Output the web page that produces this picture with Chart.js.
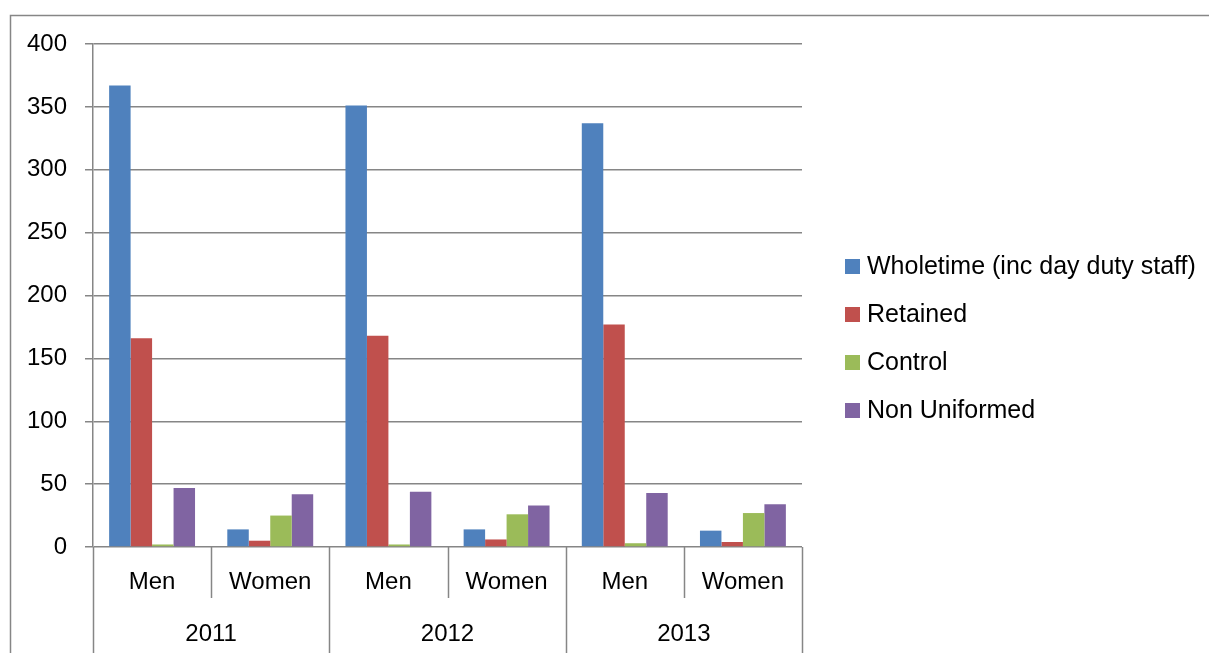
<!DOCTYPE html>
<html>
<head>
<meta charset="utf-8">
<script src="https://cdn.jsdelivr.net/npm/chart.js@4.4.1/dist/chart.umd.min.js"></script>
<style>
html,body{margin:0;padding:0;background:#fff;}
#wrap{width:1209px;height:653px;position:relative;}
</style>
</head>
<body>
<div id="wrap"><canvas id="c" width="1209" height="653"></canvas></div>
<script>
const categories = ['Men', 'Women', 'Men', 'Women', 'Men', 'Women'];
const years = ['2011', '2012', '2013'];
const seriesNames = ['Wholetime (inc day duty staff)', 'Retained', 'Control', 'Non Uniformed'];
const wholetime = [367, 14, 351, 14, 337, 13];
const retained = [166, 5, 168, 6, 177, 4];
const control = [2, 25, 2, 26, 3, 27];
const nonUniformed = [47, 42, 44, 33, 43, 34];
const colors = ['#4F81BD', '#C0504D', '#9BBB59', '#8064A2'];
const yMax = 400, yStep = 50;

const FONT = '"Liberation Sans", Arial, sans-serif';
const GRID = '#868686';

const framePlugin = {
  id: 'frame',
  beforeDraw(chart) {
    const ctx = chart.ctx;
    ctx.save();
    ctx.fillStyle = '#fff';
    ctx.fillRect(0, 0, chart.width, chart.height);
    ctx.strokeStyle = GRID;
    ctx.lineWidth = 1.5;
    ctx.beginPath();
    ctx.moveTo(10.5, chart.height + 2);
    ctx.lineTo(10.5, 15.5);
    ctx.lineTo(chart.width + 2, 15.5);
    ctx.stroke();
    ctx.restore();
  },
  afterDraw(chart) {
    const ctx = chart.ctx;
    const xs = chart.scales.x;
    const area = chart.chartArea;
    const n = categories.length;
    const bounds = [];
    for (let k = 0; k <= n; k++) {
      if (k === 0) bounds.push(area.left);
      else if (k === n) bounds.push(area.right);
      else bounds.push((xs.getPixelForTick(k - 1) + xs.getPixelForTick(k)) / 2);
    }
    ctx.save();
    ctx.strokeStyle = GRID;
    ctx.lineWidth = 1.5;
    bounds.forEach((bx, k) => {
      const x = Math.round(bx) + 0.5;
      ctx.beginPath();
      ctx.moveTo(x, area.bottom);
      ctx.lineTo(x, k % 2 === 0 ? chart.height : 598);
      ctx.stroke();
    });
    // year labels
    ctx.fillStyle = '#000';
    ctx.font = '24px ' + FONT;
    ctx.textAlign = 'center';
    ctx.textBaseline = 'middle';
    years.forEach((y, i) => {
      const cx = (bounds[i * 2] + bounds[i * 2 + 2]) / 2;
      ctx.fillText(y, cx, 634);
    });
    // legend
    ctx.textAlign = 'left';
    ctx.font = '25px ' + FONT;
    chart.data.datasets.forEach((ds, i) => {
      const cy = 266.5 + i * 48;
      ctx.fillStyle = ds.backgroundColor;
      ctx.fillRect(845, cy - 7.5, 15, 15);
      ctx.fillStyle = '#000';
      ctx.fillText(ds.label, 867, cy + 1);
    });
    ctx.restore();
  }
};

const datasets = [wholetime, retained, control, nonUniformed].map((d, i) => ({
  label: seriesNames[i],
  data: d,
  backgroundColor: colors[i],
  borderWidth: 0,
  categoryPercentage: 0.727,
  barPercentage: 1.0
}));

new Chart(document.getElementById('c'), {
  type: 'bar',
  data: { labels: categories, datasets },
  plugins: [framePlugin],
  options: {
    responsive: false,
    animation: false,
    layout: { padding: { left: 0, top: 44, right: 407, bottom: 0 } },
    plugins: { legend: { display: false }, tooltip: { enabled: false } },
    scales: {
      x: {
        offset: true,
        grid: { display: false },
        border: { display: false },
        ticks: { color: '#000', font: { family: FONT, size: 24 }, padding: 13, maxRotation: 0, autoSkip: false },
        afterFit(s) { s.height = 106; }
      },
      y: {
        min: 0, max: yMax,
        ticks: { stepSize: yStep, color: '#000', font: { family: FONT, size: 24 }, padding: 18 },
        grid: { color: GRID, lineWidth: 1.5, tickLength: 8, drawTicks: true },
        border: { display: true, color: GRID, width: 1.5 },
        afterFit(s) { s.width = 93; }
      }
    }
  }
});
</script>
</body>
</html>
